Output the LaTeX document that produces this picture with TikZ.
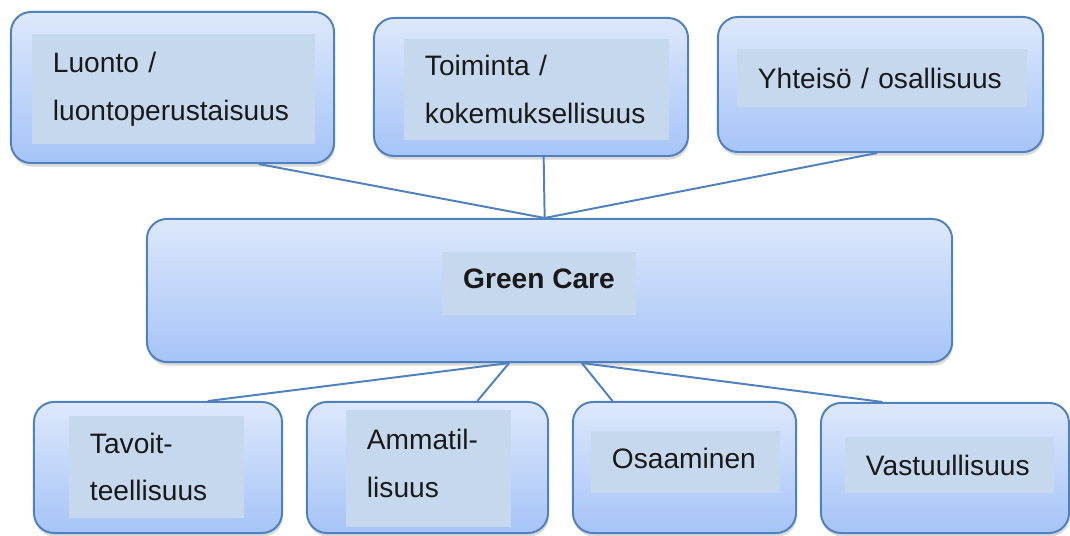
\documentclass[tikz,border=0pt]{standalone}
\usepackage{fontspec}
\setmainfont{Liberation Sans}
\usepackage{xcolor}
\usepackage{tikz}
\usetikzlibrary{calc,shadows}

\definecolor{boxline}{RGB}{79,129,189}
\definecolor{boxtop}{RGB}{221,232,251}
\definecolor{boxbottom}{RGB}{166,196,248}
\definecolor{labelfill}{RGB}{198,216,238}

\begin{document}
\begin{tikzpicture}[x=0.025cm,y=-0.025cm,
    outer/.style={rectangle,rounded corners=0.5cm,draw=boxline,line width=1.4pt,top color=boxtop,bottom color=boxbottom,
        drop shadow={shadow xshift=0.6pt,shadow yshift=-2.5pt,opacity=0.3}},
    labelbox/.style={rectangle,fill=labelfill,inner xsep=0.525cm,inner ysep=0pt,align=left,
        font=\fontsize{20pt}{34pt}\selectfont,text=black!90},
    link/.style={draw=boxline,line width=1.4pt}]
    \useasboundingbox (0,0) rectangle (1070,536);

    % top row
    \node[outer,minimum width=8.075cm,minimum height=3.775cm] (luonto) at (172.5,87.5) {};
    \node[labelbox,text width=6.025cm,minimum height=2.75cm] (luontotext) at (173.5,89) {Luonto /\\luontoperustaisuus};
    \node[outer,minimum width=7.85cm,minimum height=3.45cm] (toiminta) at (531,87) {};
    \node[labelbox,text width=5.575cm,minimum height=2.525cm] (toimintatext) at (536.5,89.5) {Toiminta /\\kokemuksellisuus};
    \node[outer,minimum width=8.125cm,minimum height=3.375cm] (yhteiso) at (880.5,84.5) {};
    \node[labelbox,text width=6.2cm,minimum height=1.45cm] (yhteisotext) at (882,78) {Yhteisö / osallisuus};

    % middle
    \node[outer,minimum width=20.125cm,minimum height=3.575cm] (gc) at (549.5,290.5) {};
    \node[labelbox,minimum width=4.85cm,minimum height=1.575cm,inner xsep=0pt,align=center,text depth=0.25cm] (gctext) at (539,283.5) {\bfseries Green Care};

    % bottom row
    \node[outer,minimum width=6.2cm,minimum height=3.275cm] (tavoit) at (158,467.5) {};
    \node[labelbox,text width=3.325cm,minimum height=2.55cm] (tavoittext) at (156.5,467) {Tavoit-\\teellisuus};
    \node[outer,minimum width=6.025cm,minimum height=3.275cm] (ammatil) at (427.5,467.5) {};
    \node[labelbox,text width=3.075cm,minimum height=2.925cm,text depth=1.45cm] (ammatiltext) at (428.5,468.5) {Ammatil-\\lisuus};
    \node[outer,minimum width=5.575cm,minimum height=3.275cm] (osaaminen) at (684.5,467.5) {};
    \node[labelbox,text width=3.675cm,minimum height=1.55cm,text depth=0.2cm] (osaamintext) at (685.5,462) {Osaaminen};
    \node[outer,minimum width=6.2cm,minimum height=3.25cm] (vastuu) at (945,468) {};
    \node[labelbox,text width=4.175cm,minimum height=1.4cm] (vastuutext) at (949.5,465) {Vastuullisuus};

    % connectors
    \coordinate (gctop) at ($(gc.north west)!0.494!(gc.north east)$);
    \coordinate (gcleft) at ($(gc.south west)!0.45!(gc.south east)$);
    \coordinate (gcright) at ($(gc.south west)!0.54!(gc.south east)$);
    \draw[link] ($(luonto.south west)!0.765!(luonto.south east)$) -- (gctop);
    \draw[link] ($(toiminta.south west)!0.54!(toiminta.south east)$) -- (gctop);
    \draw[link] ($(yhteiso.south west)!0.49!(yhteiso.south east)$) -- (gctop);
    \draw[link] (gcleft) -- ($(tavoit.north west)!0.70!(tavoit.north east)$);
    \draw[link] (gcleft) -- ($(ammatil.north west)!0.705!(ammatil.north east)$);
    \draw[link] (gcright) -- ($(osaaminen.north west)!0.18!(osaaminen.north east)$);
    \draw[link] (gcright) -- ($(vastuu.north west)!0.25!(vastuu.north east)$);
\end{tikzpicture}
\end{document}
